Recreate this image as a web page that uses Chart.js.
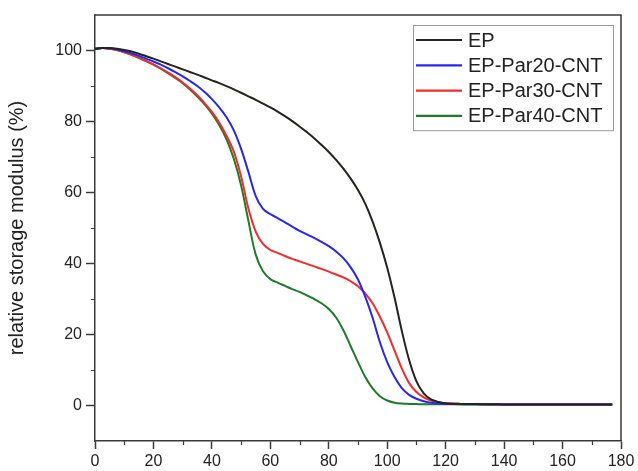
<!DOCTYPE html>
<html>
<head>
<meta charset="utf-8">
<script src="https://cdn.jsdelivr.net/npm/chart.js@4/dist/chart.umd.min.js"></script>
<style>
  html, body { margin: 0; padding: 0; background: #ffffff; }
  #wrap { width: 638px; height: 471px; }
</style>
</head>
<body>
<div id="wrap"><canvas id="chart" width="638" height="471"></canvas></div>
<script>
// Temperature (°C)
const temperature = [
  0, 2.5, 5, 7.5, 10, 12.5, 15, 17.5, 20, 22.5, 25, 27.5, 30, 32.5, 35, 37.5,
  40, 42.5, 45, 47.5, 50, 52.5, 55, 57.5, 60, 62.5, 65, 67.5, 70, 72.5, 75, 77.5,
  80, 82.5, 85, 87.5, 90, 92.5, 95, 97.5, 100, 102.5, 105, 107.5, 110, 112.5, 115, 117.5,
  120, 125, 130, 135, 140, 145, 150, 155, 160, 165, 170, 175, 177
];

// Relative storage modulus (%)
const ep = [
  100.5, 100.7, 100.7, 100.5, 100.15, 99.7, 99.1, 98.4, 97.7, 96.95, 96.2, 95.45, 94.7, 93.95, 93.2, 92.4,
  91.6, 90.8, 89.95, 89.05, 88.1, 87.1, 86.1, 85.05, 84.0, 82.8, 81.5, 80.1, 78.6, 77.0, 75.3, 73.4,
  71.4, 69.2, 66.7, 63.9, 60.7, 56.8, 51.8, 45.8, 38.8, 30.4, 21.0, 12.8, 6.8, 3.4, 1.7, 1.0,
  0.65, 0.45, 0.4, 0.35, 0.3, 0.3, 0.3, 0.3, 0.3, 0.3, 0.3, 0.3, 0.3
];
const par20 = [
  100.5, 100.7, 100.6, 100.3, 99.8, 99.2, 98.5, 97.7, 96.9, 96.0, 95.0, 93.9, 92.7, 91.4, 90.0, 88.3,
  86.3, 84.0, 81.2, 77.5, 72.3, 65.8, 59.0, 55.4, 53.9, 52.8, 51.6, 50.4, 49.2, 48.2, 47.2, 46.1,
  44.9, 43.4, 41.5, 38.9, 35.5, 30.6, 24.7, 17.8, 12.2, 8.0, 4.9, 3.0, 1.9, 1.2, 0.8, 0.55,
  0.45, 0.4, 0.35, 0.3, 0.3, 0.3, 0.3, 0.3, 0.3, 0.3, 0.3, 0.3, 0.3
];
const par30 = [
  100.5, 100.7, 100.5, 100.1, 99.5, 98.8, 98.0, 97.1, 96.1, 95.0, 93.8, 92.5, 91.0, 89.3, 87.4, 85.2,
  82.7, 79.7, 76.0, 71.5, 64.5, 55.5, 49.0, 45.5, 43.8, 43.0, 42.1, 41.3, 40.6, 39.9, 39.2, 38.5,
  37.7, 36.9, 36.1, 35.0, 33.6, 31.5, 28.8, 25.0, 20.6, 15.5, 10.4, 6.3, 3.8, 2.3, 1.4, 0.9,
  0.6, 0.45, 0.4, 0.35, 0.3, 0.3, 0.3, 0.3, 0.3, 0.3, 0.3, 0.3, 0.3
];
const par40 = [
  100.5, 100.7, 100.5, 100.1, 99.5, 98.8, 97.9, 97.0, 96.0, 94.9, 93.6, 92.3, 90.8, 89.0, 87.0, 84.8,
  82.2, 79.0, 75.0, 69.5, 62.0, 52.0, 42.5, 37.8, 35.6, 34.6, 33.7, 32.8, 32.0, 31.0, 30.0, 28.8,
  27.2, 24.8, 21.2, 16.7, 12.2, 8.0, 4.8, 2.6, 1.4, 0.8, 0.55, 0.45, 0.4, 0.35, 0.35, 0.35,
  0.35, 0.3, 0.3, 0.3, 0.3, 0.3, 0.3, 0.3, 0.3, 0.3, 0.3, 0.3, 0.3
];

const seriesNames = ['EP', 'EP-Par20-CNT', 'EP-Par30-CNT', 'EP-Par40-CNT'];
const seriesColors = ['#23231f', '#2727f5', '#f52a2a', '#1f7a2c'];

const xTicks = [0, 20, 40, 60, 80, 100, 120, 140, 160, 180];
const yTicks = [0, 20, 40, 60, 80, 100];
const xMinorTicks = [10, 30, 50, 70, 90, 110, 130, 150, 170];
const yMinorTicks = [10, 30, 50, 70, 90];

const axisColor = '#3a3a3a';
const textColor = '#222222';
const fontFamily = '"Liberation Sans", Arial, sans-serif';

const toPoints = (vals) => temperature.map((t, i) => ({ x: t, y: vals[i] }));

// Closes the frame on the top and right and adds the short minor ticks
const framePlugin = {
  id: 'frame',
  afterDraw(chart) {
    const { ctx, chartArea: a, scales } = chart;
    ctx.save();
    ctx.strokeStyle = axisColor;
    ctx.lineWidth = 1.5;
    ctx.beginPath();
    ctx.moveTo(a.left, a.top);
    ctx.lineTo(a.right, a.top);
    ctx.lineTo(a.right, a.bottom);
    ctx.stroke();
    ctx.lineWidth = 1.2;
    ctx.beginPath();
    xMinorTicks.forEach(v => {
      const px = Math.round(scales.x.getPixelForValue(v)) + 0.5;
      ctx.moveTo(px, a.bottom);
      ctx.lineTo(px, a.bottom + 4);
    });
    yMinorTicks.forEach(v => {
      const py = Math.round(scales.y.getPixelForValue(v)) + 0.5;
      ctx.moveTo(a.left, py);
      ctx.lineTo(a.left - 4, py);
    });
    ctx.stroke();
    ctx.restore();
  }
};

// Boxed legend in the upper right corner of the plot
const boxLegendPlugin = {
  id: 'boxLegend',
  afterDraw(chart) {
    const { ctx, chartArea: a } = chart;
    const right = a.right - 8;
    const left = right - 200;
    const top = a.top + 10;
    const rowH = 25.3;
    const n = chart.data.datasets.length;
    ctx.save();
    ctx.fillStyle = '#ffffff';
    ctx.fillRect(left, top, right - left, rowH * n + 4);
    ctx.strokeStyle = '#9a9a9a';
    ctx.lineWidth = 1;
    ctx.strokeRect(left + 0.5, top + 0.5, right - left, rowH * n + 4);
    ctx.font = '20px ' + fontFamily;
    ctx.textBaseline = 'middle';
    chart.data.datasets.forEach((ds, i) => {
      const cy = top + 15 + i * rowH;
      ctx.strokeStyle = ds.borderColor;
      ctx.lineWidth = 2.2;
      ctx.beginPath();
      ctx.moveTo(left + 3, cy);
      ctx.lineTo(left + 49, cy);
      ctx.stroke();
      ctx.fillStyle = textColor;
      ctx.fillText(ds.label, left + 55, cy + 1);
    });
    ctx.restore();
  }
};

const allSeries = [ep, par20, par30, par40];

new Chart(document.getElementById('chart'), {
  type: 'line',
  data: {
    datasets: allSeries.map((vals, i) => ({
      label: seriesNames[i],
      data: toPoints(vals),
      borderColor: seriesColors[i],
      backgroundColor: seriesColors[i],
      borderWidth: 2,
      pointRadius: 0,
      fill: false,
      tension: 0.35
    }))
  },
  options: {
    responsive: false,
    devicePixelRatio: 1,
    animation: false,
    layout: { padding: { left: 0, top: 15, right: 17, bottom: 0 } },
    plugins: {
      legend: { display: false },
      tooltip: { enabled: false }
    },
    scales: {
      x: {
        type: 'linear',
        min: 0,
        max: 180,
        afterBuildTicks: (scale) => { scale.ticks = xTicks.map(v => ({ value: v })); },
        afterFit: (scale) => { scale.height = 30; },
        grid: {
          drawOnChartArea: false,
          drawTicks: true,
          tickLength: 8,
          tickColor: axisColor,
          tickWidth: 1.5
        },
        border: { display: true, color: axisColor, width: 1.5 },
        ticks: {
          color: textColor,
          font: { size: 16, family: fontFamily },
          padding: 3,
          maxRotation: 0,
          autoSkip: false
        }
      },
      y: {
        type: 'linear',
        min: -10,
        max: 110,
        afterBuildTicks: (scale) => { scale.ticks = yTicks.map(v => ({ value: v })); },
        afterFit: (scale) => { scale.width = 95; },
        grid: {
          drawOnChartArea: false,
          drawTicks: true,
          tickLength: 9,
          tickColor: axisColor,
          tickWidth: 1.5
        },
        border: { display: true, color: axisColor, width: 1.5 },
        ticks: {
          color: textColor,
          font: { size: 16, family: fontFamily },
          padding: 4,
          autoSkip: false
        },
        title: {
          display: true,
          text: 'relative storage modulus (%)',
          color: textColor,
          font: { size: 20, family: fontFamily },
          padding: { top: 5, bottom: 0 }
        }
      }
    }
  },
  plugins: [framePlugin, boxLegendPlugin]
});
</script>
</body>
</html>
